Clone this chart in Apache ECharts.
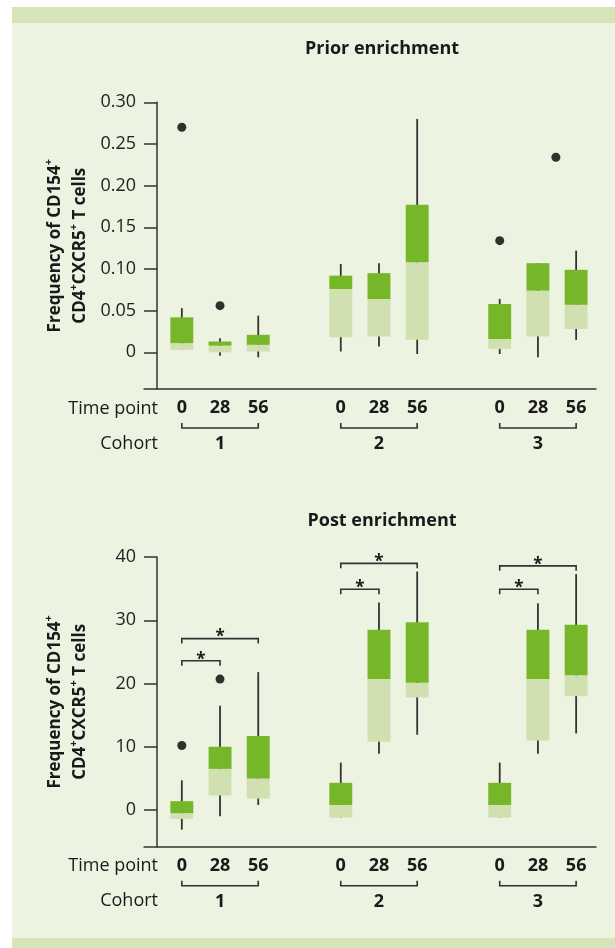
<!DOCTYPE html>
<html><head><meta charset="utf-8">
<script src="https://cdn.jsdelivr.net/npm/echarts@6/dist/echarts.min.js"></script>
<style>
html,body{margin:0;padding:0;background:#fff}
#wrap{position:relative;width:615px;height:948px;overflow:hidden}
#panel{position:absolute;left:12px;top:7px;width:603px;height:941px;background:#edf3e1}
#bandTop{position:absolute;left:12px;top:7px;width:603px;height:16px;background:#d5e4b9}
#bandBot{position:absolute;left:12px;top:938px;width:603px;height:10px;background:#d5e4b9}
#c{position:absolute;left:0;top:0;width:615px;height:948px}
</style>
</head><body>
<div id="wrap"><div id="panel"></div><div id="bandTop"></div><div id="bandBot"></div><div id="c"></div></div>
<script>
// ---------- data ----------
const timePoints = ['0', '28', '56'];
const cohorts = ['1', '2', '3'];
// [low whisker, Q1, median, Q3, high whisker]; cohort 1 (day 0, 28, 56), cohort 2, cohort 3
const priorBoxes = [
  [0.003, 0.003, 0.011, 0.042, 0.053],
  [-0.004, 0.000, 0.008, 0.013, 0.017],
  [-0.006, 0.001, 0.009, 0.021, 0.044],
  [0.001, 0.018, 0.076, 0.092, 0.106],
  [0.007, 0.019, 0.064, 0.095, 0.107],
  [-0.002, 0.015, 0.108, 0.177, 0.280],
  [-0.002, 0.004, 0.016, 0.058, 0.064],
  [-0.006, 0.019, 0.074, 0.107, 0.107],
  [0.015, 0.028, 0.057, 0.099, 0.122]
];
// [cohort index, time position, value]
const priorOutliers = [[0, 0, 0.270], [0, 1, 0.056], [2, 0, 0.134], [2, 1.47, 0.234]];
const postBoxes = [
  [-3.1, -1.4, -0.5, 1.4, 4.7],
  [-1.0, 2.3, 6.5, 10.0, 16.5],
  [0.8, 1.8, 5.0, 11.7, 21.8],
  [-1.2, -1.2, 0.8, 4.3, 7.5],
  [8.9, 10.8, 20.7, 28.5, 32.8],
  [11.9, 17.8, 20.1, 29.7, 37.7],
  [-1.2, -1.2, 0.8, 4.3, 7.5],
  [8.9, 11.0, 20.7, 28.5, 32.7],
  [12.1, 18.0, 21.3, 29.3, 37.3]
];
const postOutliers = [[0, 0, 10.2], [0, 1, 20.7]];
// [cohort index, from time index, to time index, bracket height]
const postSignificance = [
  [0, 0, 1, 23.6], [0, 0, 2, 27.1],
  [1, 0, 1, 34.9], [1, 0, 2, 39.0],
  [2, 0, 1, 34.9], [2, 0, 2, 38.6]
];
const priorTicks = [0, 0.05, 0.10, 0.15, 0.20, 0.25, 0.30];
const postTicks = [0, 10, 20, 30, 40];

// ---------- layout / style ----------
const X0 = 0.65, GROUP = 4.16, BOX_W = 0.6, X_MIN = -0.34, X_MAX = 11.49;
const DARK = '#76b72a', LIGHT = '#d1e0b0', INK = '#333333', TXT = '#1a1a1a';
const FONT = 'Open Sans';
const pos = (g, i) => X0 + g * GROUP + i;
const boxPositions = [];
cohorts.forEach((c, g) => timePoints.forEach((t, i) => boxPositions.push(pos(g, i))));
function timeLabel(v) {
  let best = 0, d = Infinity;
  boxPositions.forEach((p, k) => { if (Math.abs(p - v) < d) { d = Math.abs(p - v); best = k; } });
  return timePoints[best % timePoints.length];
}

const yName = '{b|Frequency of CD154}{s|+}\n{b|CD4}{s|+}{b|CXCR5}{s|+}{b| T cells}';
const nameRich = {
  b: { fontFamily: FONT, fontSize: 17, fontWeight: 'bold', color: TXT, lineHeight: 25 },
  s: { fontFamily: FONT, fontSize: 11, fontWeight: 'bold', color: TXT, lineHeight: 11, verticalAlign: 'top' }
};

function makeXAxis(gridIndex) {
  return {
    type: 'value', gridIndex, min: X_MIN, max: X_MAX,
    axisLine: { show: true, onZero: false, lineStyle: { color: INK, width: 1.5 } },
    axisTick: { show: false }, splitLine: { show: false },
    axisLabel: {
      customValues: boxPositions, formatter: timeLabel, margin: 10,
      fontFamily: FONT, fontSize: 18, fontWeight: 'bold', color: TXT, lineHeight: 18
    }
  };
}
function makeYAxis(gridIndex, min, max, ticks, fmt) {
  return {
    type: 'value', gridIndex, min, max,
    axisLine: { show: true, onZero: true, lineStyle: { color: INK, width: 1.5 } },
    axisTick: { show: true, customValues: ticks, length: 13, lineStyle: { color: INK, width: 1.5 } },
    axisLabel: { customValues: ticks, formatter: fmt, margin: 8, fontFamily: FONT, fontSize: 18, color: '#222' },
    splitLine: { show: false },
    name: yName, nameLocation: 'middle', nameRotate: 90, nameGap: 51,
    nameTextStyle: { rich: nameRich, align: 'center' }
  };
}

function renderBox(params, api) {
  const x = api.value(0);
  const lo = api.coord([x, api.value(1)]);
  const q1 = api.coord([x, api.value(2)]);
  const md = api.coord([x, api.value(3)]);
  const q3 = api.coord([x, api.value(4)]);
  const hi = api.coord([x, api.value(5)]);
  const w = api.size([BOX_W, 0])[0];
  return { type: 'group', children: [
    { type: 'line', shape: { x1: lo[0], y1: lo[1], x2: hi[0], y2: hi[1] }, style: { stroke: INK, lineWidth: 1.8 } },
    { type: 'rect', shape: { x: q1[0] - w / 2, y: md[1], width: w, height: q1[1] - md[1] }, style: { fill: LIGHT } },
    { type: 'rect', shape: { x: q1[0] - w / 2, y: q3[1], width: w, height: md[1] - q3[1] }, style: { fill: DARK } }
  ] };
}
function renderSig(params, api) {
  const a = api.coord([api.value(0), api.value(2)]);
  const b = api.coord([api.value(1), api.value(2)]);
  return { type: 'group', children: [
    { type: 'polyline', shape: { points: [[a[0], a[1] + 5], [a[0], a[1]], [b[0], b[1]], [b[0], b[1] + 5]] },
      style: { stroke: INK, lineWidth: 1.6, fill: null } },
    { type: 'text', style: { text: '*', x: (a[0] + b[0]) / 2, y: a[1] - 1, align: 'center', verticalAlign: 'middle',
      fontFamily: FONT, fontSize: 17, fontWeight: 'bold', fill: TXT } }
  ] };
}
function renderGroup(params, api) {
  const cs = params.coordSys;
  const bottom = cs.y + cs.height;
  const a = api.coord([api.value(0), 0])[0];
  const b = api.coord([api.value(1), 0])[0];
  const yl = bottom + 39;
  return { type: 'group', children: [
    { type: 'polyline', shape: { points: [[a, yl - 5], [a, yl], [b, yl], [b, yl - 5]] },
      style: { stroke: INK, lineWidth: 1.6, fill: null } },
    { type: 'text', style: { text: cohorts[api.value(2)], x: (a + b) / 2, y: bottom + 55, align: 'center', verticalAlign: 'middle',
      fontFamily: FONT, fontSize: 18, fontWeight: 'bold', fill: TXT } }
  ] };
}

function boxData(boxes) {
  return boxes.map((b, k) => [pos(Math.floor(k / timePoints.length), k % timePoints.length)].concat(b));
}
const groupData = cohorts.map((c, g) => [pos(g, 0), pos(g, timePoints.length - 1), g]);

function seriesFor(gi, boxes, outliers, sig) {
  const s = [
    { type: 'custom', xAxisIndex: gi, yAxisIndex: gi, renderItem: renderBox, data: boxData(boxes),
      encode: { x: 0, y: [1, 2, 3, 4, 5] }, clip: false, silent: true },
    { type: 'scatter', xAxisIndex: gi, yAxisIndex: gi, symbol: 'circle', symbolSize: 9,
      itemStyle: { color: '#000' }, data: outliers.map(o => [pos(o[0], o[1]), o[2]]), silent: true },
    { type: 'custom', xAxisIndex: gi, yAxisIndex: gi, renderItem: renderGroup, data: groupData,
      encode: { x: [0, 1] }, clip: false, silent: true }
  ];
  if (sig) s.push({ type: 'custom', xAxisIndex: gi, yAxisIndex: gi, renderItem: renderSig,
    data: sig.map(d => [pos(d[0], d[1]), pos(d[0], d[2]), d[3]]), encode: { x: [0, 1], y: 2 }, clip: false, silent: true });
  return s;
}

const labelStyle = { fontFamily: FONT, fontSize: 18, fill: TXT, align: 'right', verticalAlign: 'middle' };
const chart = echarts.init(document.getElementById('c'), null, { renderer: 'canvas' });
chart.setOption({
  animation: false,
  title: [
    { text: 'Prior enrichment', left: 377, top: 35, textAlign: 'center',
      textStyle: { fontFamily: FONT, fontSize: 18, fontWeight: 'bold', color: TXT } },
    { text: 'Post enrichment', left: 377, top: 507, textAlign: 'center',
      textStyle: { fontFamily: FONT, fontSize: 18, fontWeight: 'bold', color: TXT } }
  ],
  grid: [
    { left: 144, right: 19, top: 102.3, height: 286.7 },
    { left: 144, right: 19, top: 557, height: 289.7 }
  ],
  xAxis: [makeXAxis(0), makeXAxis(1)],
  yAxis: [
    makeYAxis(0, -0.044, 0.30, priorTicks, v => v === 0 ? '0' : v.toFixed(2)),
    makeYAxis(1, -5.8, 40, postTicks, v => String(v))
  ],
  graphic: [
    { type: 'text', style: Object.assign({ text: 'Time point', x: 158, y: 408.5 }, labelStyle) },
    { type: 'text', style: Object.assign({ text: 'Cohort', x: 158, y: 443.5 }, labelStyle) },
    { type: 'text', style: Object.assign({ text: 'Time point', x: 158, y: 866 }, labelStyle) },
    { type: 'text', style: Object.assign({ text: 'Cohort', x: 158, y: 900.5 }, labelStyle) }
  ],
  series: seriesFor(0, priorBoxes, priorOutliers, null).concat(seriesFor(1, postBoxes, postOutliers, postSignificance))
});
</script>
</body></html>
